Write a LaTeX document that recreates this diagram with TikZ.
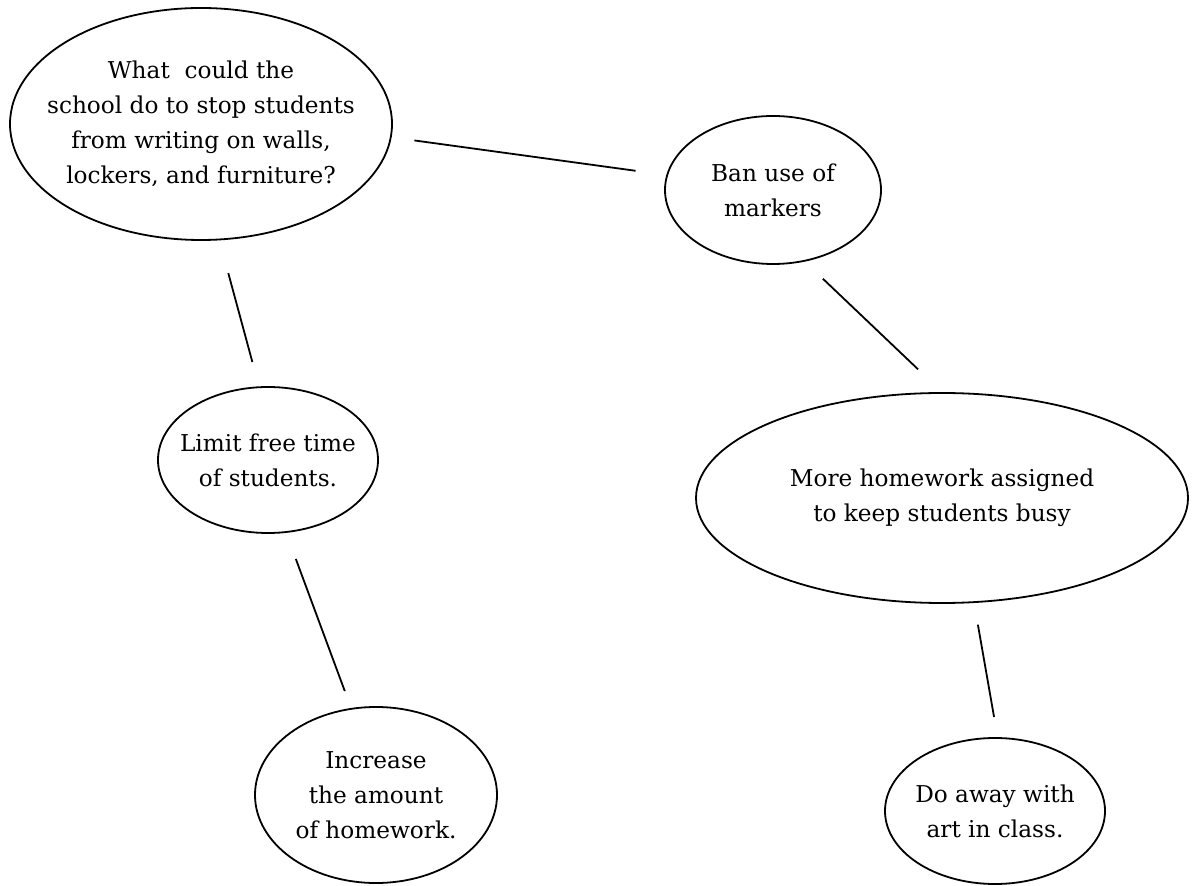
\documentclass[tikz,border=0pt]{standalone}
\usepackage{fontspec}
\setmainfont{DejaVu Serif}
\usetikzlibrary{shapes.geometric}

\begin{document}
\begin{tikzpicture}[x=0.5pt, y=-0.5pt, line width=0.9pt,
    font=\fontsize{11.6}{17.5}\selectfont,
    bubble/.style 2 args={draw, ellipse, align=center, inner sep=-30pt,
      minimum width=#1, minimum height=#2}]
      \useasboundingbox (0,0) rectangle (1193,886);
      \draw
        (201,124) node[bubble={191pt}{116pt}] (q){What~ could the\\school do to stop students\\from writing on walls,\\lockers, and furniture?}
        (773,190) node[bubble={108pt}{74pt}] (ban){Ban use of\\markers}
        (268,460) node[bubble={110pt}{73pt}] (limit){Limit free time\\of students.}
        (942,498) node[bubble={246pt}{105pt}] (more){More homework assigned\\to keep students busy}
        (376,795) node[bubble={121pt}{88pt}] (inc){Increase\\the amount\\of homework.}
        (995,811) node[bubble={110pt}{73pt}] (away){Do away with\\art in class.};
      \begin{scope}[-]
        \draw[shorten <=11.5pt, shorten >=15.5pt] (q.-4.5) to (ban.172.5);
        \draw[shorten <=17pt, shorten >=12.6pt] (q.-81.6) to (limit.97.3);
        \draw[shorten <=12.4pt, shorten >=16.5pt] (ban.-66.2) to (more.90.7);
        \draw[shorten <=13.9pt, shorten >=9pt] (limit.-76.5) to (inc.106);
        \draw[shorten <=11pt, shorten >=10.2pt] (more.-73.3) to (away.88.9);
      \end{scope}
    \end{tikzpicture}
\end{document}
